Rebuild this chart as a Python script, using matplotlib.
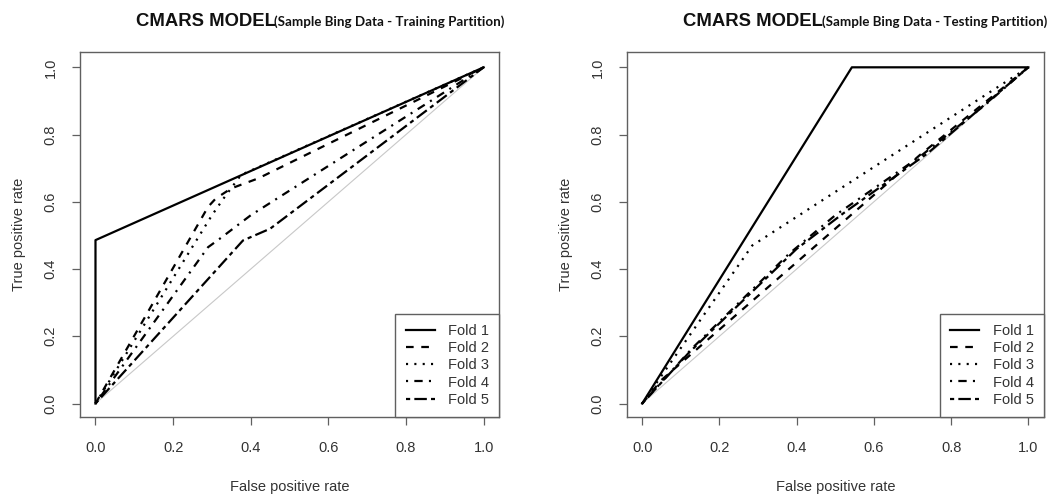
import numpy as np
import matplotlib.pyplot as plt

plt.rcParams['font.family'] = ['Liberation Sans', 'DejaVu Sans']
plt.rcParams['lines.scale_dashes'] = False

# ROC points per fold, training partition
train_fpr = [
    [0, 0, 1],
    [0, 0.29, 0.31, 0.35, 0.42, 1],
    [0, 0.30, 0.33, 0.375, 1],
    [0, 0.29, 0.32, 0.40, 1],
    [0, 0.38, 0.45, 1],
]
train_tpr = [
    [0, 0.486, 1],
    [0, 0.585, 0.61, 0.64, 0.67, 1],
    [0, 0.56, 0.61, 0.68, 1],
    [0, 0.465, 0.49, 0.56, 1],
    [0, 0.485, 0.52, 1],
]

# ROC points per fold, testing partition
test_fpr = [
    [0, 0.543, 1],
    [0, 0.05, 0.30, 0.72, 1],
    [0, 0.285, 1],
    [0, 0.13, 0.38, 0.50, 0.72, 0.89, 1],
    [0, 0.12, 0.40, 0.52, 0.74, 1],
]
test_tpr = [
    [0, 1, 1],
    [0, 0.07, 0.32, 0.74, 1],
    [0, 0.47, 1],
    [0, 0.165, 0.445, 0.56, 0.735, 0.89, 1],
    [0, 0.15, 0.46, 0.565, 0.745, 1],
]

fold_names = ['Fold 1', 'Fold 2', 'Fold 3', 'Fold 4', 'Fold 5']
ticks = [0.0, 0.2, 0.4, 0.6, 0.8, 1.0]

# R style line types: solid, dashed, dotted, dotdash, twodash
line_types = [
    '-',
    (0, (5.5, 5.5)),
    (0, (1.5, 4.5)),
    (0, (1.5, 4.5, 6, 4.5)),
    (0, (3, 3, 9, 3)),
]

box_col = '#606060'
text_col = '#333333'

fig = plt.figure(figsize=(10.48, 4.97), dpi=100)
ax1 = fig.add_axes([0.0763, 0.161, 0.400, 0.734])
ax2 = fig.add_axes([0.598, 0.161, 0.398, 0.734])


def roc_panel(ax, fpr, tpr):
    ax.plot([0, 1], [0, 1], color='#c8c8c8', lw=0.8, zorder=1)
    for i in range(5):
        ax.plot(fpr[i], tpr[i], color='black', lw=1.6, linestyle=line_types[i],
                label=fold_names[i], zorder=2)
    ax.set_xlim(-0.04, 1.04)
    ax.set_ylim(-0.04, 1.045)
    ax.set_xticks(ticks)
    ax.set_yticks(ticks)
    ax.set_xticklabels(['%.1f' % t for t in ticks])
    ax.set_yticklabels(['%.1f' % t for t in ticks])
    plt.setp(ax.get_yticklabels(), rotation=90, va='center')
    ax.tick_params(direction='out', length=6, width=0.9, color=box_col,
                   labelsize=10.5, labelcolor=text_col)
    ax.tick_params(axis='x', pad=11)
    ax.tick_params(axis='y', pad=10)
    for s in ax.spines.values():
        s.set_color(box_col)
        s.set_linewidth(1.0)
    ax.set_xlabel('False positive rate', fontsize=10.5, color=text_col)
    ax.set_ylabel('True positive rate', fontsize=10.5, color=text_col)
    ax.xaxis.set_label_coords(0.5, -0.172)
    ax.yaxis.set_label_coords(-0.128, 0.5)
    leg = ax.legend(loc='lower right', bbox_to_anchor=(1, 0), borderaxespad=0,
                    fancybox=False, framealpha=1, edgecolor=box_col,
                    fontsize=10.5, handlelength=2.0, handletextpad=0.9,
                    labelspacing=0.22, borderpad=0.7)
    leg.get_frame().set_linewidth(1.0)
    for t in leg.get_texts():
        t.set_color(text_col)


roc_panel(ax1, train_fpr, train_tpr)
roc_panel(ax2, test_fpr, test_tpr)

# titles: bold model name followed by a smaller partition note
title_y = 0.948
fig.text(0.130, title_y, 'CMARS MODEL', fontsize=13.3, fontweight='bold',
         va='baseline', color='#111111')
fig.text(0.2615, title_y, '(Sample Bing Data - Training Partition)', fontsize=9.6,
         fontweight='bold', family=['Lato', 'DejaVu Sans'], va='baseline',
         color='#111111')
fig.text(0.652, title_y, 'CMARS MODEL', fontsize=13.3, fontweight='bold',
         va='baseline', color='#111111')
fig.text(0.784, title_y, '(Sample Bing Data - Testing Partition)', fontsize=9.6,
         fontweight='bold', family=['Lato', 'DejaVu Sans'], va='baseline',
         color='#111111')

fig.savefig('out.png', dpi=100)
